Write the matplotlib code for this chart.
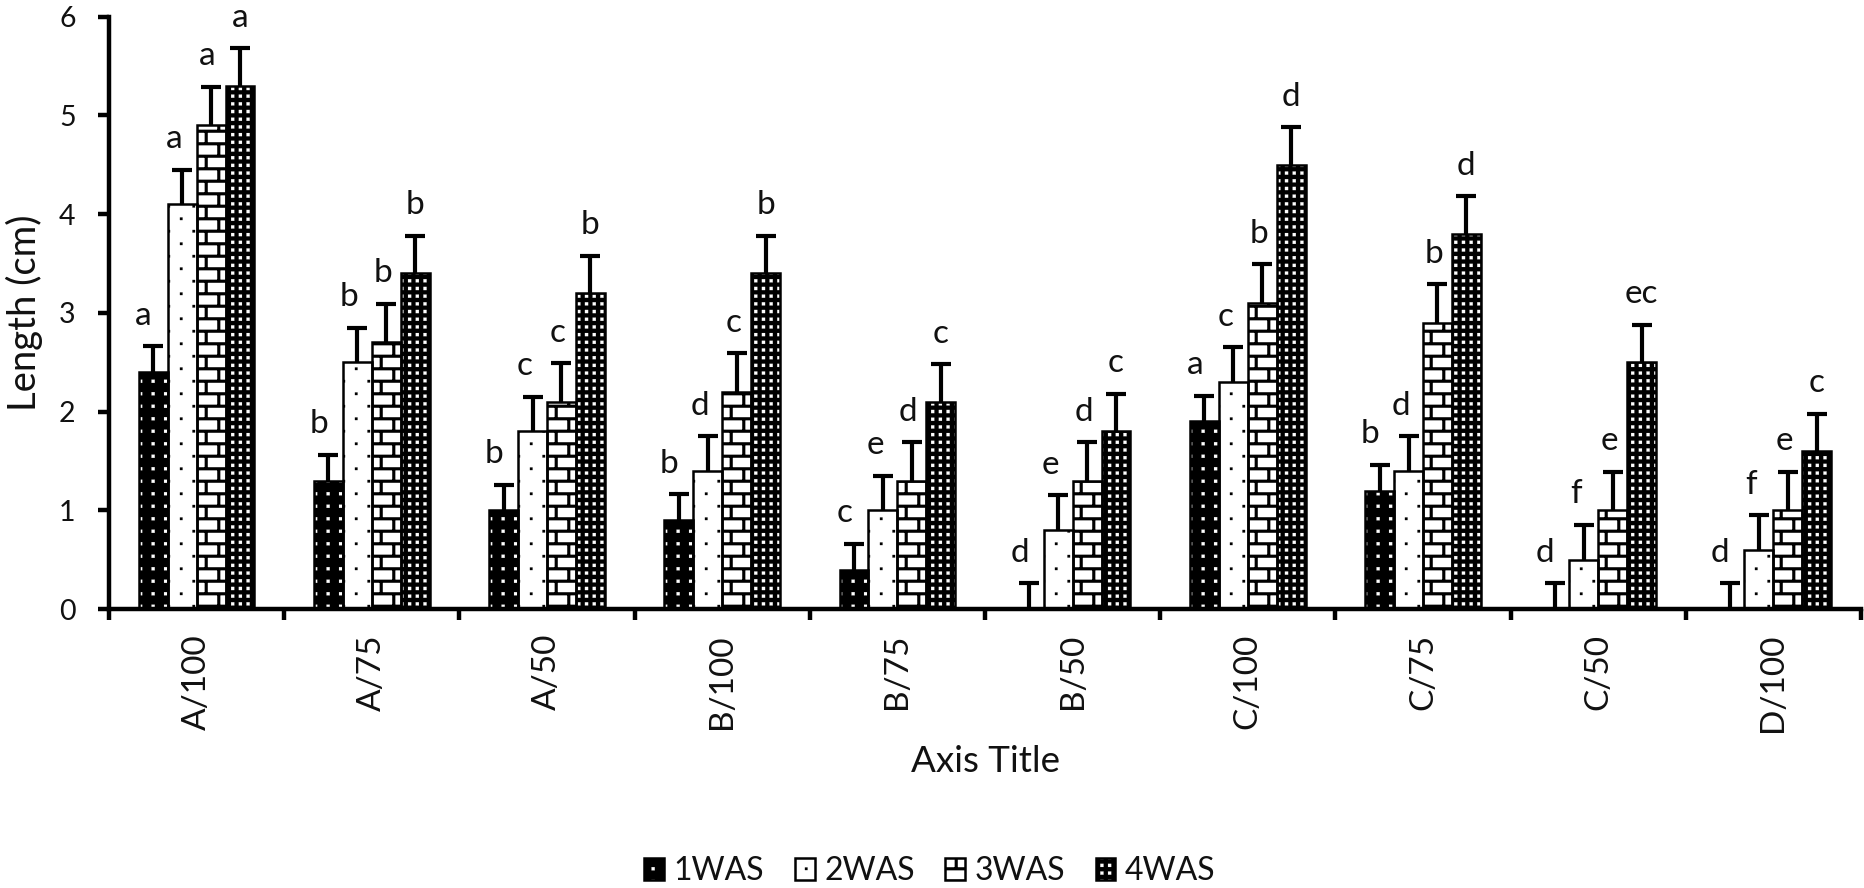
import numpy as np
import matplotlib
matplotlib.use("Agg")
import matplotlib.pyplot as plt
import matplotlib.hatch as mhatch
from matplotlib.path import Path
from matplotlib.patches import Patch
from matplotlib.legend_handler import HandlerTuple

# ---------------- data ----------------
categories = ['A/100', 'A/75', 'A/50', 'B/100', 'B/75', 'B/50',
              'C/100', 'C/75', 'C/50', 'D/100']
series = ['1WAS', '2WAS', '3WAS', '4WAS']

was1 = [2.4, 1.3, 1.0, 0.9, 0.4, 0.0, 1.9, 1.2, 0.0, 0.0]
was2 = [4.1, 2.5, 1.8, 1.4, 1.0, 0.8, 2.3, 1.4, 0.5, 0.6]
was3 = [4.9, 2.7, 2.1, 2.2, 1.3, 1.3, 3.1, 2.9, 1.0, 1.0]
was4 = [5.3, 3.4, 3.2, 3.4, 2.1, 1.8, 4.5, 3.8, 2.5, 1.6]

err1 = [0.26, 0.26, 0.26, 0.26, 0.26, 0.26, 0.26, 0.26, 0.26, 0.26]
err2 = [0.35, 0.35, 0.35, 0.35, 0.35, 0.35, 0.35, 0.35, 0.35, 0.35]
err3 = [0.39, 0.39, 0.39, 0.39, 0.39, 0.39, 0.39, 0.39, 0.39, 0.39]
err4 = [0.38, 0.38, 0.38, 0.38, 0.38, 0.38, 0.38, 0.38, 0.38, 0.38]

let1 = ['a', 'b', 'b', 'b', 'c', 'd', 'a', 'b', 'd', 'd']
let2 = ['a', 'b', 'c', 'd', 'e', 'e', 'c', 'd', 'f', 'f']
let3 = ['a', 'b', 'c', 'c', 'd', 'd', 'b', 'b', 'e', 'e']
let4 = ['a', 'b', 'b', 'b', 'c', 'c', 'd', 'd', 'ec', 'c']

values = [was1, was2, was3, was4]
errors = [err1, err2, err3, err4]
letters = [let1, let2, let3, let4]

# ---------------- custom hatch patterns (filled rectangles in unit tile) ----------------
def _rect(cx, cy, w, h):
    return [(cx - w / 2, cy - h / 2), (cx + w / 2, cy - h / 2),
            (cx + w / 2, cy + h / 2), (cx - w / 2, cy + h / 2),
            (cx - w / 2, cy - h / 2)]


def make_dots(char, nx, ny, size, stagger):
    class Dots(mhatch.HatchPatternBase):
        def __init__(self, hatch, density):
            self.rects = []
            if char in hatch:
                for j in range(ny):
                    for i in range(nx):
                        off = 0.5 if (stagger and j % 2) else 0.0
                        x = (i + 0.25 + off) / nx
                        y = (j + 0.5) / ny
                        self.rects.append(_rect(x, y, size, size))
            self.num_vertices = 5 * len(self.rects)

        def set_vertices_and_codes(self, vertices, codes):
            for k, r in enumerate(self.rects):
                vertices[5 * k:5 * k + 5] = r
                codes[5 * k:5 * k + 5] = [Path.MOVETO, Path.LINETO, Path.LINETO,
                                          Path.LINETO, Path.CLOSEPOLY]
    return Dots


def make_brick(char, nx, ny, t):
    class Brick(mhatch.HatchPatternBase):
        def __init__(self, hatch, density):
            self.rects = []
            if char in hatch:
                dy = 1.0 / ny
                for j in range(ny):
                    yc = j * dy + dy / 2
                    self.rects.append(_rect(0.5, yc, 1.0, t))
                    off = 0.5 if j % 2 else 0.0
                    y0, y1 = yc, yc + dy
                    for i in range(nx):
                        x = (i + 0.25 + off) / nx
                        if y1 <= 1.0:
                            self.rects.append(_rect(x, (y0 + y1) / 2, t, y1 - y0))
                        else:
                            self.rects.append(_rect(x, (y0 + 1.0) / 2, t, 1.0 - y0))
                            self.rects.append(_rect(x, (y1 - 1.0) / 2, t, y1 - 1.0))
            self.num_vertices = 5 * len(self.rects)

        def set_vertices_and_codes(self, vertices, codes):
            for k, r in enumerate(self.rects):
                vertices[5 * k:5 * k + 5] = r
                codes[5 * k:5 * k + 5] = [Path.MOVETO, Path.LINETO, Path.LINETO,
                                          Path.LINETO, Path.CLOSEPOLY]
    return Brick


mhatch._hatch_types = [
    make_dots('.', 8, 8, 0.032, False),     # 1WAS: white squares on black
    make_dots('o', 4, 8, 0.026, True),      # 2WAS: sparse black dots
    make_brick('-', 4, 8, 0.03),            # 3WAS: brick
    make_dots('O', 13, 13, 0.032, False),   # 4WAS: dense white squares on black
]
plt.rcParams['hatch.linewidth'] = 0.1

# ---------------- figure ----------------
plt.rcParams['font.family'] = ['Lato', 'DejaVu Sans']
TXT = '#111111'
W, H = 1864, 888
fig = plt.figure(figsize=(W / 100, H / 100), dpi=100)
ax = fig.add_axes([109 / W, 1 - 609 / H, (1861 - 109) / W, (609 - 16.6) / H])

styles = [
    dict(face='black', hcol='white', hatch='.'),
    dict(face='white', hcol='black', hatch='o'),
    dict(face='white', hcol='black', hatch='-'),
    dict(face='black', hcol='white', hatch='O'),
]
letter_dx = [-0.055, -0.045, -0.02, 0.0]

x = np.arange(len(categories))
w = 0.165
edge_lw = 1.8
handles = []
for k in range(4):
    xs = x + (k - 1.5) * w
    st = styles[k]
    ax.bar(xs, values[k], width=w, color=st['face'], edgecolor=st['hcol'],
           hatch=st['hatch'], linewidth=0, zorder=2)
    ax.bar(xs, values[k], width=w, fill=False, edgecolor='black',
           linewidth=edge_lw, zorder=3)
    tops = np.array(values[k]) + np.array(errors[k])
    ax.vlines(xs, values[k], tops, color='black', lw=3.0, zorder=4)
    ax.plot(xs, tops, ls='none', marker='_', ms=14, mew=3.0, color='black', zorder=4)
    for i in range(len(categories)):
        ax.text(xs[i] + letter_dx[k], tops[i] + 0.31, letters[k][i], ha='center',
                va='center', fontsize=24, color=TXT, zorder=5)
    p1 = Patch(facecolor=st['face'], edgecolor=st['hcol'], hatch=st['hatch'], linewidth=0)
    p2 = Patch(fill=False, edgecolor='black', linewidth=1.8)
    handles.append((p1, p2))

ax.set_xlim(-0.5, len(categories) - 0.5)
ax.set_ylim(0, 6)
for s in ['top', 'right']:
    ax.spines[s].set_visible(False)
for s in ['left', 'bottom']:
    ax.spines[s].set_linewidth(3.2)
    ax.spines[s].set_capstyle('projecting')

ax.set_yticks(np.arange(0, 7, 1))
ax.tick_params(axis='y', direction='out', length=8, width=3.2, pad=16,
               labelsize=20.5, labelcolor=TXT)
ax.set_xticks(np.arange(-0.5, len(categories), 1))
ax.set_xticklabels([])
ax.set_xticks(x, minor=True)
ax.set_xticklabels(categories, minor=True, rotation=90)
ax.tick_params(axis='x', which='major', direction='out', length=8, width=3.2)
ax.tick_params(axis='x', which='minor', length=0, pad=18, labelsize=24,
               labelcolor=TXT)

fig.text(985 / W, 1 - 761 / H, 'Axis Title', ha='center', va='center',
         fontsize=26.5, color=TXT)
fig.text(24 / W, 1 - 313 / H, 'Length (cm)', ha='center', va='center',
         rotation=90, fontsize=27.5, color=TXT)

leg = fig.legend(handles, series, handler_map={tuple: HandlerTuple(ndivide=1)},
                 loc='center', bbox_to_anchor=(930 / W, 1 - 871 / H), ncol=4,
                 frameon=False, fontsize=23, handlelength=0.62, handleheight=0.7,
                 handletextpad=0.3, columnspacing=0.95, borderpad=0)
for t in leg.get_texts():
    t.set_color(TXT)

fig.savefig('out.png', dpi=100)
